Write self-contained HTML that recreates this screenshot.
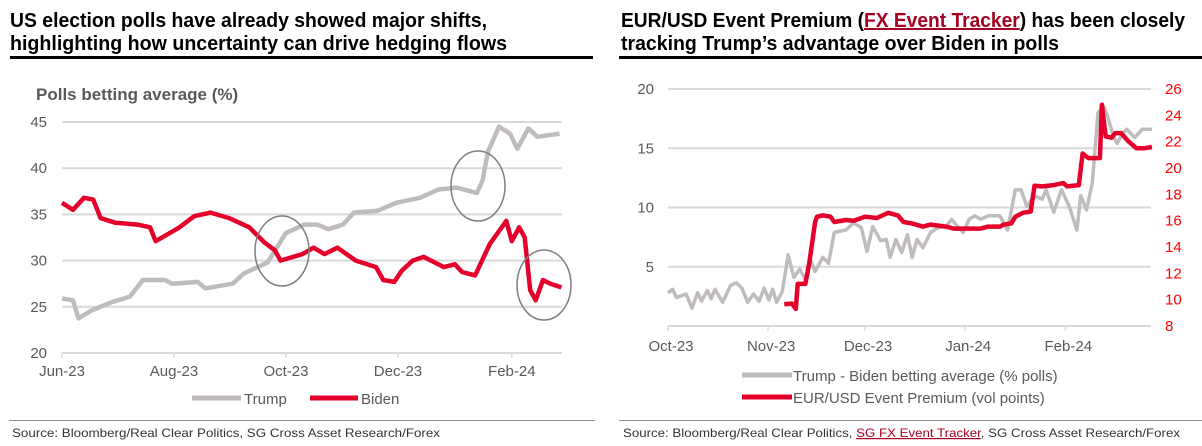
<!DOCTYPE html>
<html><head><meta charset="utf-8">
<style>
html,body{margin:0;padding:0;background:#fff;}
svg{display:block;}
text{font-family:"Liberation Sans",sans-serif;}
</style></head>
<body>
<svg id="root" width="1202" height="446" viewBox="0 0 1202 446" xmlns="http://www.w3.org/2000/svg">
  <g font-weight="bold" font-size="20" fill="#000">
    <text x="10" y="27" textLength="477" lengthAdjust="spacingAndGlyphs">US election polls have already showed major shifts,</text>
    <text x="10" y="50" textLength="497" lengthAdjust="spacingAndGlyphs">highlighting how uncertainty can drive hedging flows</text>
  </g>
  <rect x="10" y="56" width="583" height="3" fill="#000"/>
  <g font-weight="bold" font-size="20" fill="#000">
    <text x="621" y="27" textLength="564" lengthAdjust="spacingAndGlyphs">EUR/USD Event Premium (<tspan fill="#a50021" text-decoration="underline">FX Event Tracker</tspan>) has been closely</text>
    <text x="621" y="50" textLength="438" lengthAdjust="spacingAndGlyphs">tracking Trump’s advantage over Biden in polls</text>
  </g>
  <rect x="619" y="56" width="583" height="3" fill="#000"/>

  <text x="36" y="100" font-size="17" font-weight="bold" fill="#595959">Polls betting average (%)</text>

  <g id="left"></g>
  <g id="right"></g>

  <g font-size="15" fill="#595959">
    <line x1="192" y1="398" x2="241" y2="398" stroke="#bfbbbb" stroke-width="5"/>
    <text x="244" y="404">Trump</text>
    <line x1="310" y1="398" x2="358" y2="398" stroke="#e4002b" stroke-width="5"/>
    <text x="361" y="404">Biden</text>
  </g>
  <g font-size="15" fill="#595959">
    <line x1="742" y1="375" x2="792" y2="375" stroke="#bfbbbb" stroke-width="5"/>
    <text x="793" y="381">Trump - Biden betting average (% polls)</text>
    <line x1="742" y1="397" x2="792" y2="397" stroke="#e4002b" stroke-width="5"/>
    <text x="793" y="403">EUR/USD Event Premium (vol points)</text>
  </g>

  <line x1="9" y1="420.5" x2="595" y2="420.5" stroke="#8c8c8c" stroke-width="1"/>
  <line x1="619" y1="420.5" x2="1202" y2="420.5" stroke="#8c8c8c" stroke-width="1"/>
  <text x="12" y="437" font-size="12" fill="#333" textLength="428" lengthAdjust="spacingAndGlyphs">Source: Bloomberg/Real Clear Politics, SG Cross Asset Research/Forex</text>
  <text x="623" y="437" font-size="12" fill="#333" textLength="557" lengthAdjust="spacingAndGlyphs">Source: Bloomberg/Real Clear Politics, <tspan fill="#a50021" text-decoration="underline">SG FX Event Tracker</tspan>, SG Cross Asset Research/Forex</text>
</svg>
<script>
// ---- Left chart data (days since 1 Jun 2023) ----
const leftTicks = ["Jun-23","Aug-23","Oct-23","Dec-23","Feb-24"];
const leftTickDays = [0,61,122,183,245];
const leftYTicks = [20,25,30,35,40,45];
const trumpDays = [0,6,9,16,27,37,44,56,60,74,78,93,99,112,122,132,139,145,153,159,172,182,195,205,215,226,229,232,238,244,248,254,259,271];
const trumpVals = [25.9,25.7,23.75,24.6,25.5,26.1,27.9,27.9,27.5,27.7,27,27.5,28.6,29.8,33,33.9,33.9,33.4,33.9,35.2,35.4,36.25,36.8,37.7,37.9,37.3,38.6,41.8,44.5,43.75,42.1,44.3,43.4,43.75];
const bidenDays = [0,6,12,17,21,29,41,48,51,58,64,72,81,91,102,110,116,119,131,137,143,150,160,171,175,181,185,191,197,208,214,218,225,233,242,245,249,252,255,258,262,266,272];
const bidenVals = [36.25,35.5,36.8,36.6,34.6,34.1,33.9,33.6,32.1,32.9,33.6,34.8,35.2,34.6,33.6,32,31.1,30,30.7,31.4,30.7,31.4,30,29.3,27.9,27.7,28.9,30,30.4,29.3,29.6,28.75,28.4,31.8,34.3,32.1,33.6,32.5,26.8,25.7,27.9,27.5,27.1];
// ---- Right chart data (days since 1 Oct 2023) ----
const rightTicks = ["Oct-23","Nov-23","Dec-23","Jan-24","Feb-24"];
const rightTickDays = [0,31,61,92,123];
const rightYTicksL = [5,10,15,20];
const rightYTicksR = [8,10,12,14,16,18,20,22,24,26];
const spreadX = [178,190,200,225,240,255,265,280,290,300,320,340,355,370,385,400,415,428,440,450,460,475,490,505,520,535,548,560,580,595,610,640,660,680,695,710,730,745,755,770,785,800,812,825,840,860,880,900,915,930,945,960,975,990,1010,1040,1060,1080,1095,1110,1130,1150,1160,1180,1200,1220,1240,1250,1265,1280,1295,1310,1320,1335,1345,1360,1370,1390,1410,1435];
const spreadVals = [2.8,3.1,2.4,2.7,1.5,2.8,2.1,3,2.3,3.1,2,3.4,3.65,3.2,2,2.7,2.1,3.2,2.2,3.1,2,2.9,6,4.1,4.8,3.95,5.6,4.6,5.8,5.3,7.9,8.1,8.7,8.3,6.3,8.4,7.2,7.3,5.8,7.3,6.2,7.7,5.8,7.3,6.6,7.9,8.3,8.4,9,8.4,7.9,9,9.3,9,9.3,9.3,8.1,11.5,11.5,10.1,11,10.7,11.5,9.6,11.5,10.1,8.1,11,9.8,12.1,18,18.5,17.7,16,15.4,16.3,16.6,15.9,16.6,16.6];
const premiumX = [480,500,510,515,535,545,560,565,580,600,610,640,660,690,720,750,775,790,810,840,860,900,920,950,970,990,1010,1040,1050,1070,1080,1100,1120,1130,1150,1180,1205,1215,1245,1255,1270,1300,1305,1315,1330,1340,1355,1375,1395,1415,1435];
const premiumVals = [9.65,9.7,9.3,11.2,11.2,12.8,15.9,16.3,16.4,16.3,15.9,16.05,16,16.3,16.2,16.6,16.4,15.9,15.8,15.55,15.7,15.55,15.4,15.4,15.4,15.4,15.55,15.55,15.7,15.8,16.3,16.6,16.7,18.65,18.6,18.7,18.85,18.6,18.7,21.1,20.75,20.75,24.8,22.4,22.3,22.65,22.65,22,21.5,21.5,21.6];

const NS="http://www.w3.org/2000/svg";
function mk(parent,tag,attrs){const e=document.createElementNS(NS,tag);for(const k in attrs)e.setAttribute(k,attrs[k]);parent.appendChild(e);return e;}

// Left axes
const L={x0:62,x1:562,y0:353,y1:122};
const lx=d=>L.x0+d*1.836;
const ly=v=>L.y0-(v-20)*(L.y0-L.y1)/25;
const left=document.getElementById('left');
leftYTicks.forEach(v=>{
  const g=mk(left,'line',{x1:L.x0,x2:L.x1,y1:ly(v),y2:ly(v),stroke:'#d9d9d9','stroke-width':2});
  
  
  const t=mk(left,'text',{x:47,y:ly(v)+5,'text-anchor':'end','font-size':15,fill:'#595959'});
  t.textContent=v;
  
  
});
leftTicks.forEach((lab,i)=>{
  const x=lx(leftTickDays[i]);
  const tk=mk(left,'line',{x1:x,x2:x,y1:L.y0,y2:L.y0+5,stroke:'#d9d9d9','stroke-width':1.5});
  
  
  const t=mk(left,'text',{x:x,y:376,'text-anchor':'middle','font-size':15,fill:'#595959'});
  t.textContent=lab;
  
  
});
function pathFrom(xs,ys,fx,fy){return xs.map((d,i)=>(i?'L':'M')+fx(d).toFixed(1)+','+fy(ys[i]).toFixed(1)).join(' ');}
const tl=mk(left,'path',{d:pathFrom(trumpDays,trumpVals,lx,ly),fill:'none',stroke:'#c0bcbc','stroke-width':4.5,'stroke-linejoin':'round'});


const bl=mk(left,'path',{d:pathFrom(bidenDays,bidenVals,lx,ly),fill:'none',stroke:'#e4002b','stroke-width':4.5,'stroke-linejoin':'round'});


[[282,251],[478,186],[544,285]].forEach(c=>{
  const e=mk(left,'ellipse',{cx:c[0],cy:c[1],rx:27,ry:35,fill:'none',stroke:'#7f7f7f','stroke-width':1.5});
  
  
});

// Right axes
const R={x0:668,x1:1151,y0:326,y1:89};
const rx=d=>R.x0+d*3.23;
const rzx=z=>rx((z-178)/8.39);
const ryl=v=>R.y0-v*(R.y0-R.y1)/20;
const ryr=v=>R.y0-(v-8)*(R.y0-R.y1)/18;
const right=document.getElementById('right');
rightYTicksL.forEach(v=>{
  const g=mk(right,'line',{x1:R.x0,x2:R.x1,y1:ryl(v),y2:ryl(v),stroke:'#d9d9d9','stroke-width':2});
  
  
  const t=mk(right,'text',{x:654,y:ryl(v)+5,'text-anchor':'end','font-size':15,fill:'#595959'});
  t.textContent=v;
  
  
});
const ax=mk(right,'line',{x1:R.x0,x2:R.x1,y1:R.y0,y2:R.y0,stroke:'#d9d9d9','stroke-width':2});


rightYTicksR.forEach(v=>{
  const t=mk(right,'text',{x:1165,y:ryr(v)+5,'font-size':15,fill:'#ff0000'});
  t.textContent=v;
  
  
});
rightTicks.forEach((lab,i)=>{
  const x=rx(rightTickDays[i]);
  const tk=mk(right,'line',{x1:x,x2:x,y1:R.y0,y2:R.y0+5,stroke:'#d9d9d9','stroke-width':1.5});
  
  
  const t=mk(right,'text',{x:x+3,y:351,'text-anchor':'middle','font-size':15,fill:'#595959'});
  t.textContent=lab;
  
  
});
const sl=mk(right,'path',{d:pathFrom(spreadX,spreadVals,rzx,ryl),fill:'none',stroke:'#c0bcbc','stroke-width':3.5,'stroke-linejoin':'round'});


const pl=mk(right,'path',{d:pathFrom(premiumX,premiumVals,rzx,ryr),fill:'none',stroke:'#e4002b','stroke-width':4.5,'stroke-linejoin':'round'});


</script>
</body></html>
